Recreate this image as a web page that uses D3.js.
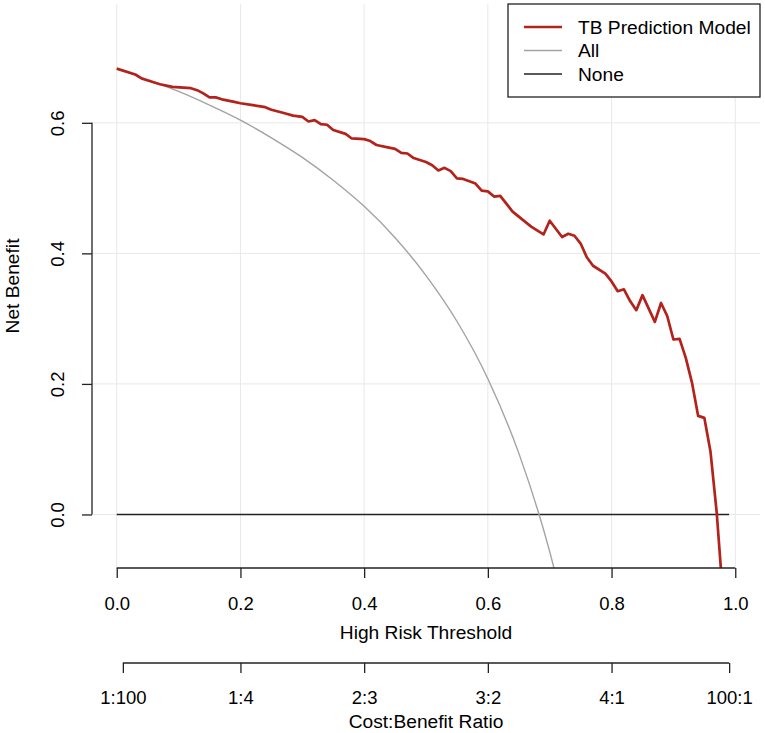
<!DOCTYPE html>
<html lang="en">
<head>
<meta charset="UTF-8">
<title>Decision Curve</title>
<script src="https://cdnjs.cloudflare.com/ajax/libs/d3/7.8.5/d3.min.js"></script>
<style>
    body { margin: 0; background: #fff; }
    svg { display: block; font-family: "Liberation Sans", Arial, sans-serif; }
</style>
</head>
<body>
<svg id="chart" width="765" height="733"></svg>
<script>
// values
const thresholds = [0.00, 0.03, 0.04, 0.07, 0.09, 0.12, 0.13, 0.14, 0.15, 0.16, 0.17, 0.19, 0.20,
    0.22, 0.24, 0.25, 0.27, 0.285, 0.30, 0.31, 0.32, 0.33, 0.34, 0.35, 0.37, 0.38, 0.40, 0.41,
    0.42, 0.44, 0.45, 0.46, 0.47, 0.48, 0.50, 0.51, 0.52, 0.53, 0.54, 0.55, 0.56, 0.58, 0.59,
    0.60, 0.61, 0.62, 0.64, 0.67, 0.69, 0.70, 0.72, 0.73, 0.74, 0.75, 0.76, 0.77, 0.79, 0.80,
    0.81, 0.82, 0.83, 0.84, 0.85, 0.87, 0.88, 0.89, 0.90, 0.91, 0.92, 0.93, 0.94, 0.95, 0.96,
    0.97, 0.98];
const modelBenefit = [0.683, 0.674, 0.668, 0.659, 0.655, 0.653, 0.650, 0.645, 0.639, 0.639, 0.636, 0.632, 0.630,
    0.627, 0.624, 0.620, 0.615, 0.611, 0.609, 0.602, 0.604, 0.598, 0.597, 0.589, 0.583, 0.576, 0.575, 0.572,
    0.566, 0.562, 0.560, 0.554, 0.553, 0.546, 0.540, 0.535, 0.527, 0.531, 0.526, 0.515, 0.514, 0.507, 0.496,
    0.495, 0.487, 0.488, 0.464, 0.441, 0.429, 0.450, 0.425, 0.430, 0.427, 0.415, 0.394, 0.381, 0.369, 0.357,
    0.342, 0.345, 0.327, 0.313, 0.336, 0.295, 0.324, 0.304, 0.268, 0.269, 0.240, 0.202, 0.151, 0.148, 0.096,
    0.003, -0.124];

const allThresholds = [0.00, 0.05, 0.10, 0.15, 0.20, 0.25, 0.30, 0.35, 0.40, 0.45, 0.50, 0.55, 0.60, 0.65, 0.70, 0.72];
const allBenefit = [0.683, 0.666, 0.648, 0.627, 0.604, 0.577, 0.547, 0.512, 0.472, 0.424, 0.366, 0.296, 0.208, 0.094, -0.057, -0.132];

const noneRange = [0, 0.99];

const xTicks = [0, 0.2, 0.4, 0.6, 0.8, 1.0];
const yTicks = [0, 0.2, 0.4, 0.6];
const ratioTicks = [0.0099, 0.2, 0.4, 0.6, 0.8, 0.9901];
const ratioLabels = ["1:100", "1:4", "2:3", "3:2", "4:1", "100:1"];
const legendLabels = ["TB Prediction Model", "All", "None"];

const red = "#b3221b", grey = "#a3a3a3", black = "#222";
const fs = 18.5, fsTitle = 19.2;

const svg = d3.select("#chart");
const pLeft = 92, pRight = 760, pTop = 4, pBottom = 568;

const x = d3.scaleLinear().domain([-0.04, 1.04]).range([pLeft, pRight]);
const y = d3.scaleLinear().domain([-0.082, 0.782]).range([pBottom, pTop]);

svg.append("rect").attr("width", 765).attr("height", 733).attr("fill", "#fff");

svg.append("clipPath").attr("id", "plot-clip")
    .append("rect").attr("x", pLeft).attr("y", pTop)
    .attr("width", pRight - pLeft).attr("height", pBottom - pTop);

// grid
const grid = svg.append("g").attr("stroke", "#e8e8e8").attr("stroke-width", 1);
grid.selectAll("line.v").data(xTicks).enter().append("line")
    .attr("x1", d => x(d)).attr("x2", d => x(d))
    .attr("y1", pTop).attr("y2", pBottom);
grid.selectAll("line.h").data(yTicks).enter().append("line")
    .attr("x1", pLeft).attr("x2", pRight)
    .attr("y1", d => y(d)).attr("y2", d => y(d));

const plot = svg.append("g").attr("clip-path", "url(#plot-clip)");

// treat none
plot.append("line")
    .attr("x1", x(noneRange[0])).attr("x2", x(noneRange[1]))
    .attr("y1", y(0)).attr("y2", y(0))
    .attr("stroke", black).attr("stroke-width", 1.6);

// treat all
const allLine = d3.line()
    .x(d => x(d[0])).y(d => y(d[1]))
    .curve(d3.curveMonotoneX);
plot.append("path")
    .datum(allThresholds.map((t, i) => [t, allBenefit[i]]))
    .attr("d", allLine)
    .attr("fill", "none").attr("stroke", grey).attr("stroke-width", 1.4);

// model
const modelLine = d3.line().x(d => x(d[0])).y(d => y(d[1]));
plot.append("path")
    .datum(thresholds.map((t, i) => [t, modelBenefit[i]]))
    .attr("d", modelLine)
    .attr("fill", "none").attr("stroke", red).attr("stroke-width", 2.7)
    .attr("stroke-linejoin", "round");

// x axis
const xAxis = svg.append("g").attr("transform", `translate(0,${pBottom})`)
    .call(d3.axisBottom(x).tickValues(xTicks).tickSize(10).tickFormat(d3.format(".1f")));
xAxis.select(".domain").remove();
xAxis.append("line").attr("x1", x(0)).attr("x2", x(1)).attr("stroke", black).attr("stroke-width", 1.3);
xAxis.selectAll(".tick line").attr("stroke", black).attr("stroke-width", 1.3);
xAxis.selectAll(".tick text").attr("y", 42).attr("dy", null)
    .attr("font-size", fs).attr("fill", "#000").attr("font-family", null);

svg.append("text").attr("x", (pLeft + pRight) / 2).attr("y", 638.5)
    .attr("text-anchor", "middle").attr("font-size", fsTitle).text("High Risk Threshold");

// y axis
const yAxis = svg.append("g").attr("transform", `translate(${pLeft},0)`)
    .call(d3.axisLeft(y).tickValues(yTicks).tickSize(10).tickFormat(d3.format(".1f")));
yAxis.select(".domain").remove();
yAxis.append("line").attr("y1", y(0)).attr("y2", y(0.6)).attr("stroke", black).attr("stroke-width", 1.3);
yAxis.selectAll(".tick line").attr("stroke", black).attr("stroke-width", 1.3);
yAxis.selectAll(".tick text")
    .attr("x", 0).attr("y", -28).attr("dy", null)
    .attr("transform", "rotate(-90)").attr("text-anchor", "middle")
    .attr("font-size", fs).attr("fill", "#000").attr("font-family", null);

svg.append("text")
    .attr("transform", `translate(18.5,${(pTop + pBottom) / 2}) rotate(-90)`)
    .attr("text-anchor", "middle").attr("font-size", fsTitle).text("Net Benefit");

// cost:benefit axis
const rAxisY = 663;
const rAxis = svg.append("g").attr("transform", `translate(0,${rAxisY})`)
    .call(d3.axisBottom(x).tickValues(ratioTicks).tickSize(10).tickFormat((d, i) => ratioLabels[i]));
rAxis.select(".domain").remove();
rAxis.append("line").attr("x1", x(ratioTicks[0])).attr("x2", x(ratioTicks[ratioTicks.length - 1]))
    .attr("stroke", black).attr("stroke-width", 1.3);
rAxis.selectAll(".tick line").attr("stroke", black).attr("stroke-width", 1.3);
rAxis.selectAll(".tick text").attr("y", 40.5).attr("dy", null)
    .attr("font-size", fs).attr("fill", "#000").attr("font-family", null);

svg.append("text").attr("x", (pLeft + pRight) / 2).attr("y", 727.5)
    .attr("text-anchor", "middle").attr("font-size", fsTitle).text("Cost:Benefit Ratio");

// legend
const legend = svg.append("g");
legend.append("rect").attr("x", 508).attr("y", 4).attr("width", 252).attr("height", 93)
    .attr("fill", "#fff").attr("stroke", black).attr("stroke-width", 1.3);
const legendColors = [red, grey, black];
const legendWidths = [2.7, 1.4, 1.6];
legendLabels.forEach((lab, i) => {
    const ly = 27 + i * 23.5;
    legend.append("line").attr("x1", 524).attr("x2", 562).attr("y1", ly).attr("y2", ly)
        .attr("stroke", legendColors[i]).attr("stroke-width", legendWidths[i]);
    legend.append("text").attr("x", 578).attr("y", ly + 6.8)
        .attr("font-size", fsTitle).text(lab);
});
</script>
</body>
</html>
